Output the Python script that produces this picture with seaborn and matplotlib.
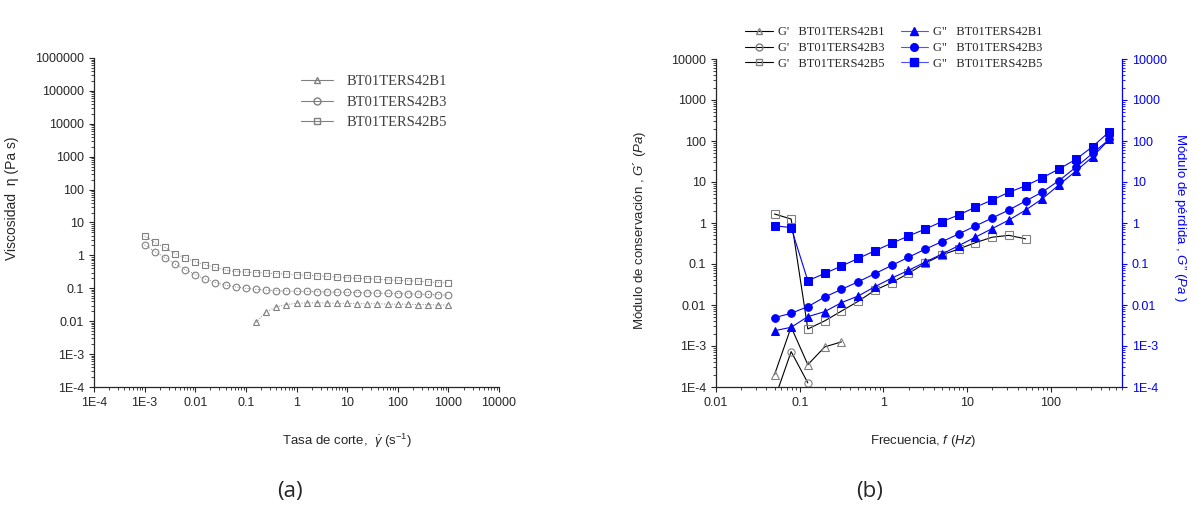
import numpy as np
import pandas as pd
import matplotlib
matplotlib.use("Agg")
import matplotlib.pyplot as plt
from matplotlib.lines import Line2D
from matplotlib.ticker import LogLocator, NullFormatter
import seaborn as sns

# ---------------- data (a) ----------------
shear_rate = [0.001, 0.00158, 0.00251, 0.00398, 0.00631, 0.01, 0.0158, 0.0251, 0.0398, 0.0631,
              0.1, 0.158, 0.251, 0.398, 0.631, 1, 1.58, 2.51, 3.98, 6.31,
              10, 15.8, 25.1, 39.8, 63.1, 100, 158, 251, 398, 631, 1000]
visc_B5 = [3.94, 2.47, 1.74, 1.14, 0.84, 0.64, 0.52, 0.43, 0.36, 0.32, 0.31, 0.30,
           0.29, 0.28, 0.27, 0.26, 0.25, 0.24, 0.23, 0.22, 0.21, 0.20, 0.195, 0.19,
           0.18, 0.175, 0.17, 0.165, 0.155, 0.15, 0.145]
visc_B3 = [2.1, 1.31, 0.86, 0.55, 0.37, 0.26, 0.19, 0.15, 0.125, 0.11, 0.1, 0.093,
           0.088, 0.085, 0.083, 0.081, 0.08, 0.079, 0.077, 0.076, 0.075, 0.074, 0.073,
           0.071, 0.07, 0.069, 0.068, 0.067, 0.065, 0.064, 0.062]
shear_rate_B1 = [0.158, 0.251, 0.398, 0.631, 1, 1.58, 2.51, 3.98, 6.31,
                 10, 15.8, 25.1, 39.8, 63.1, 100, 158, 251, 398, 631, 1000]
visc_B1 = [0.0092, 0.019, 0.027, 0.032, 0.035, 0.036, 0.036, 0.036, 0.035, 0.035,
           0.034, 0.034, 0.034, 0.033, 0.033, 0.033, 0.032, 0.032, 0.031, 0.031]

# ---------------- data (b) ----------------
freq = [0.05, 0.079, 0.125, 0.199, 0.315, 0.5, 0.792, 1.25, 1.99, 3.15, 5, 7.92,
        12.5, 19.9, 31.5, 50, 79.2, 125, 199, 315, 500]
Gpp_B1 = [0.00236, 0.00286, 0.0052, 0.0069, 0.0114, 0.0166, 0.028, 0.045, 0.07, 0.111,
          0.175, 0.28, 0.45, 0.73, 1.18, 2.07, 3.9, 8.5, 18.5, 41, 110]
Gpp_B3 = [0.0049, 0.0063, 0.0091, 0.0157, 0.024, 0.037, 0.058, 0.092, 0.146, 0.229,
          0.35, 0.54, 0.845, 1.32, 2.08, 3.44, 5.7, 10.8, 22.9, 50, 110]
Gpp_B5 = [0.86, 0.77, 0.039, 0.059, 0.089, 0.137, 0.21, 0.32, 0.48, 0.71, 1.08, 1.57,
          2.42, 3.64, 5.6, 8.1, 12.7, 20.7, 35.8, 72.6, 169]
Gp_B1 = [0.0002, 0.0029, 0.00035, 0.00095, 0.00126]
Gp_B3 = [0.00005, 0.00073, 0.000126]
Gp_B5 = [1.66, 1.25, 0.0026, 0.0041, 0.0071, 0.0123, 0.023, 0.035, 0.059, 0.104,
         0.166, 0.232, 0.33, 0.45, 0.50, 0.41]

samples = ["BT01TERS42B1", "BT01TERS42B3", "BT01TERS42B5"]
ticks_a_x = [1e-4, 1e-3, 1e-2, 1e-1, 1, 10, 100, 1000, 10000]
labels_a_x = ["1E-4", "1E-3", "0.01", "0.1", "1", "10", "100", "1000", "10000"]
ticks_a_y = [1e-4, 1e-3, 1e-2, 1e-1, 1, 10, 100, 1000, 1e4, 1e5, 1e6]
labels_a_y = ["1E-4", "1E-3", "0.01", "0.1", "1", "10", "100", "1000", "10000", "100000", "1000000"]
ticks_b_x = [0.01, 0.1, 1, 10, 100]
labels_b_x = ["0.01", "0.1", "1", "10", "100"]
ticks_b_y = [1e-4, 1e-3, 1e-2, 1e-1, 1, 10, 100, 1000, 1e4]
labels_b_y = ["1E-4", "1E-3", "0.01", "0.1", "1", "10", "100", "1000", "10000"]

# ---------------- style ----------------
sns.set_style("ticks")
plt.rcParams["font.family"] = ["Liberation Sans", "DejaVu Sans"]
plt.rcParams["mathtext.fontset"] = "custom"
plt.rcParams["mathtext.rm"] = "Liberation Sans"
plt.rcParams["mathtext.it"] = "Liberation Sans:italic"
plt.rcParams["mathtext.bf"] = "Liberation Sans:bold"

GREY = "#808080"
BLUE = "#0000FF"
W, H = 1197, 514
fig = plt.figure(figsize=(W / 100, H / 100), dpi=100)

def fx(px):
    return px / W

def fy(py):
    return 1 - py / H

ax1 = fig.add_axes([fx(94), fy(387), fx(499 - 94), (387 - 58) / H])
ax2 = fig.add_axes([fx(716), fy(387), fx(1122 - 716), (387 - 59) / H])
ax3 = ax2.twinx()

for ax in (ax1, ax2, ax3):
    ax.set_xscale("log")
    ax.set_yscale("log")

# ---------- panel (a) ----------
common_a = dict(ax=ax1, color=GREY, linestyle=":", linewidth=0.7, mfc="none", mec=GREY,
                mew=0.8, markersize=4.8, estimator=None, sort=False, legend=False)
sns.lineplot(x=shear_rate_B1, y=visc_B1, marker="^", **common_a)
sns.lineplot(x=shear_rate, y=visc_B3, marker="o", **common_a)
sns.lineplot(x=shear_rate, y=visc_B5, marker="s", **common_a)

ax1.set_xlim(1e-4, 1e4)
ax1.set_ylim(1e-4, 1e6)
ax1.set_xticks(ticks_a_x, labels_a_x)
ax1.set_yticks(ticks_a_y, labels_a_y)
ax1.xaxis.set_minor_locator(LogLocator(base=10, subs=np.arange(2, 10), numticks=100))
ax1.yaxis.set_minor_locator(LogLocator(base=10, subs=np.arange(2, 10), numticks=100))
ax1.xaxis.set_minor_formatter(NullFormatter())
ax1.yaxis.set_minor_formatter(NullFormatter())
ax1.spines["top"].set_visible(False)
ax1.spines["right"].set_visible(False)
ax1.set_xlabel(r"Tasa de corte,  $\dot{\gamma}$ (s$^{-1}$)", fontsize=9.5)
ax1.set_ylabel("Viscosidad  η (Pa s)", fontsize=10)
ax1.xaxis.set_label_coords((347 - 94) / 405, -(432 - 387) / 329)
ax1.yaxis.set_label_coords(-(94 - 19) / 405, (387 - 198) / 329)

leg_a = [Line2D([], [], color=GREY, lw=0.8, marker=m, mfc="none", mec=GREY, ms=5)
         for m in ["^", "o", "s"]]
ax1.legend(leg_a, samples, loc="upper left", bbox_to_anchor=(fx(288), fy(62)),
           bbox_transform=fig.transFigure, frameon=False, handlelength=2.2,
           handletextpad=0.9, labelspacing=0.5,
           prop={"family": "Liberation Serif", "size": 10.5}, labelcolor="#404040")

# ---------- panel (b) ----------
common_gp = dict(ax=ax2, color="black", linewidth=0.8, mfc="none", mec=GREY, mew=0.8,
                 markersize=5.2, estimator=None, sort=False, legend=False)
sns.lineplot(x=freq[:len(Gp_B1)], y=Gp_B1, marker="^", **common_gp)
sns.lineplot(x=freq[:len(Gp_B3)], y=Gp_B3, marker="o", **common_gp)
sns.lineplot(x=freq[:len(Gp_B5)], y=Gp_B5, marker="s", **common_gp)

common_gpp = dict(ax=ax3, color=BLUE, linewidth=0.8, mfc=BLUE, mec=BLUE,
                  markersize=5.5, estimator=None, sort=False, legend=False)
sns.lineplot(x=freq, y=Gpp_B1, marker="^", **common_gpp)
sns.lineplot(x=freq, y=Gpp_B3, marker="o", **common_gpp)
sns.lineplot(x=freq, y=Gpp_B5, marker="s", **common_gpp)

for ax in (ax2, ax3):
    ax.set_xlim(0.01, 708)
    ax.set_ylim(1e-4, 1e4)
    ax.yaxis.set_minor_locator(LogLocator(base=10, subs=np.arange(2, 10), numticks=100))
    ax.yaxis.set_minor_formatter(NullFormatter())
ax2.set_xticks(ticks_b_x, labels_b_x)
ax2.xaxis.set_minor_locator(LogLocator(base=10, subs=np.arange(2, 10), numticks=100))
ax2.xaxis.set_minor_formatter(NullFormatter())
ax2.set_yticks(ticks_b_y, labels_b_y)
ax3.set_yticks(ticks_b_y, labels_b_y)
ax2.spines["top"].set_visible(False)
ax3.spines["top"].set_visible(False)
ax2.spines["right"].set_visible(False)
ax3.spines["left"].set_visible(False)
ax3.spines["bottom"].set_visible(False)
ax3.spines["right"].set_color(BLUE)
ax3.tick_params(axis="y", which="both", colors=BLUE)

ax2.set_xlabel(r"Frecuencia, $f\ (Hz)$", fontsize=9.5)
ax2.set_ylabel(r"Módulo de conservación , $G´\ (Pa)$", fontsize=9.5)
ax3.set_ylabel(r"Módulo de pérdida , $G”\ (Pa\ )$", fontsize=9.5, color=BLUE,
               rotation=270, labelpad=14)
ax2.xaxis.set_label_coords((923 - 716) / 406, -(433 - 387) / 328)
ax2.yaxis.set_label_coords(-(716 - 648) / 406, (387 - 230) / 328)
ax3.yaxis.set_label_coords(1 + (1188 - 1122) / 406, (387 - 218) / 328)

h_gp = [Line2D([], [], color="black", lw=0.8, marker=m, mfc="none", mec=GREY, ms=5)
        for m in ["^", "o", "s"]]
h_gpp = [Line2D([], [], color="#5050ff", lw=0.8, marker=m, mfc=BLUE, mec=BLUE, ms=5.5)
         for m in ["^", "o", "s"]]
labels_b = [f"G'   {s}" for s in samples] + [f'G"   {s}' for s in samples]
ax3.legend(h_gp + h_gpp, labels_b, ncol=2, loc="upper left",
           bbox_to_anchor=(fx(734), fy(15)), bbox_transform=fig.transFigure,
           frameon=False, handlelength=2.2, handletextpad=0.4, labelspacing=0.3,
           columnspacing=1.3, prop={"family": "Liberation Serif", "size": 9})

for ax in (ax1, ax2, ax3):
    ax.tick_params(which="major", direction="out", length=3.5, width=0.8, labelsize=9)
    ax.tick_params(which="minor", direction="out", length=2, width=0.6)
    for sp in ax.spines.values():
        sp.set_linewidth(0.9)
ax3.spines["right"].set_color(BLUE)

fig.text(fx(290), fy(492), "(a)", ha="center", va="center", fontsize=16, family="Open Sans")
fig.text(fx(870), fy(492), "(b)", ha="center", va="center", fontsize=16, family="Open Sans")

fig.savefig("out.png", dpi=100)
